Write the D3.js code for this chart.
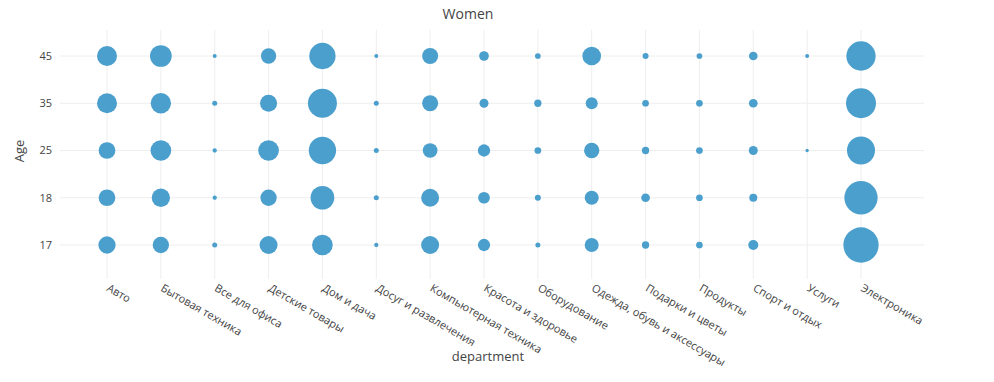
<!DOCTYPE html>
<html>
<head>
<meta charset="utf-8">
<script src="https://cdn.jsdelivr.net/npm/d3@7"></script>
<style>
  body { margin: 0; background: #fff; }
  text { font-family: "Open Sans", verdana, arial, sans-serif; fill: #444; }
</style>
</head>
<body>
<div id="chart"></div>
<script>
// categories
var departments = ["Авто", "Бытовая техника", "Все для офиса", "Детские товары", "Дом и дача",
    "Досуг и развлечения", "Компьютерная техника", "Красота и здоровье", "Оборудование",
    "Одежда, обувь и аксессуары", "Подарки и цветы", "Продукты", "Спорт и отдых", "Услуги", "Электроника"];
var ages = ["17", "18", "25", "35", "45"];

// bubble sizes per department, in the order of ages (17, 18, 25, 35, 45)
var sizes = [
    [17.3, 16.7, 16.7, 20, 20],
    [16.3, 18.3, 20.7, 20.3, 21.7],
    [5, 4.3, 4.3, 5, 4],
    [18, 16.3, 20.7, 17, 15.3],
    [20.7, 23.7, 27.3, 29, 26.3],
    [4.3, 5, 5, 5, 4],
    [18, 18, 14.7, 16, 16],
    [12.3, 11.7, 12.3, 9, 9.7],
    [5, 6, 6.7, 7.3, 5.7],
    [14, 14, 15.3, 12, 18.7],
    [7.3, 8.7, 7.3, 6.7, 6],
    [6.7, 6.7, 6.7, 6.7, 5.7],
    [10, 8, 9, 8.7, 8.7],
    [0, 0, 3.3, 0, 4],
    [35.3, 33.3, 28, 30, 29.3]
];

var width = 994, height = 382;
var plot = {left: 60, right: 924, top: 30, bottom: 279};

var points = [];
departments.forEach(function (d, i) {
    ages.forEach(function (a, j) {
        if (sizes[i][j] > 0) points.push({dep: d, age: a, size: sizes[i][j]});
    });
});

var x = d3.scalePoint().domain(departments).range([107, 861]);
var y = d3.scalePoint().domain(ages).range([245, 56]);
var diam = d3.scaleLinear().domain([0, 35.3]).range([0, 35.3]);

var svg = d3.select("#chart").append("svg")
    .attr("width", width)
    .attr("height", height);

// grid
svg.append("g").selectAll("line")
    .data(departments).enter().append("line")
    .attr("x1", d => x(d)).attr("x2", d => x(d))
    .attr("y1", plot.top).attr("y2", plot.bottom)
    .attr("stroke", "#eee").attr("stroke-width", 1);

svg.append("g").selectAll("line")
    .data(ages).enter().append("line")
    .attr("x1", plot.left).attr("x2", plot.right)
    .attr("y1", d => y(d)).attr("y2", d => y(d))
    .attr("stroke", "#eee").attr("stroke-width", 1);

// bubbles
svg.append("g").selectAll("circle")
    .data(points).enter().append("circle")
    .attr("cx", d => x(d.dep))
    .attr("cy", d => y(d.age))
    .attr("r", d => diam(d.size) / 2)
    .attr("fill", "#4b9fcd");

// y tick labels
svg.append("g").selectAll("text")
    .data(ages).enter().append("text")
    .attr("x", 52)
    .attr("y", d => y(d))
    .attr("dy", "0.35em")
    .attr("text-anchor", "end")
    .style("font-size", "11px")
    .text(d => d);

// x tick labels, rotated
svg.append("g").selectAll("text")
    .data(departments).enter().append("text")
    .attr("transform", d => "translate(" + (x(d) + 1) + ",287) rotate(30)")
    .attr("dy", "0.35em")
    .attr("text-anchor", "start")
    .style("font-size", "11px")
    .text(d => d);

// titles
svg.append("text")
    .attr("x", 468).attr("y", 19)
    .attr("text-anchor", "middle")
    .style("font-size", "14px")
    .text("Women");

svg.append("text")
    .attr("x", 488).attr("y", 361)
    .attr("text-anchor", "middle")
    .style("font-size", "13px")
    .text("department");

svg.append("text")
    .attr("transform", "translate(24,151) rotate(-90)")
    .attr("text-anchor", "middle")
    .style("font-size", "13px")
    .text("Age");
</script>
</body>
</html>
